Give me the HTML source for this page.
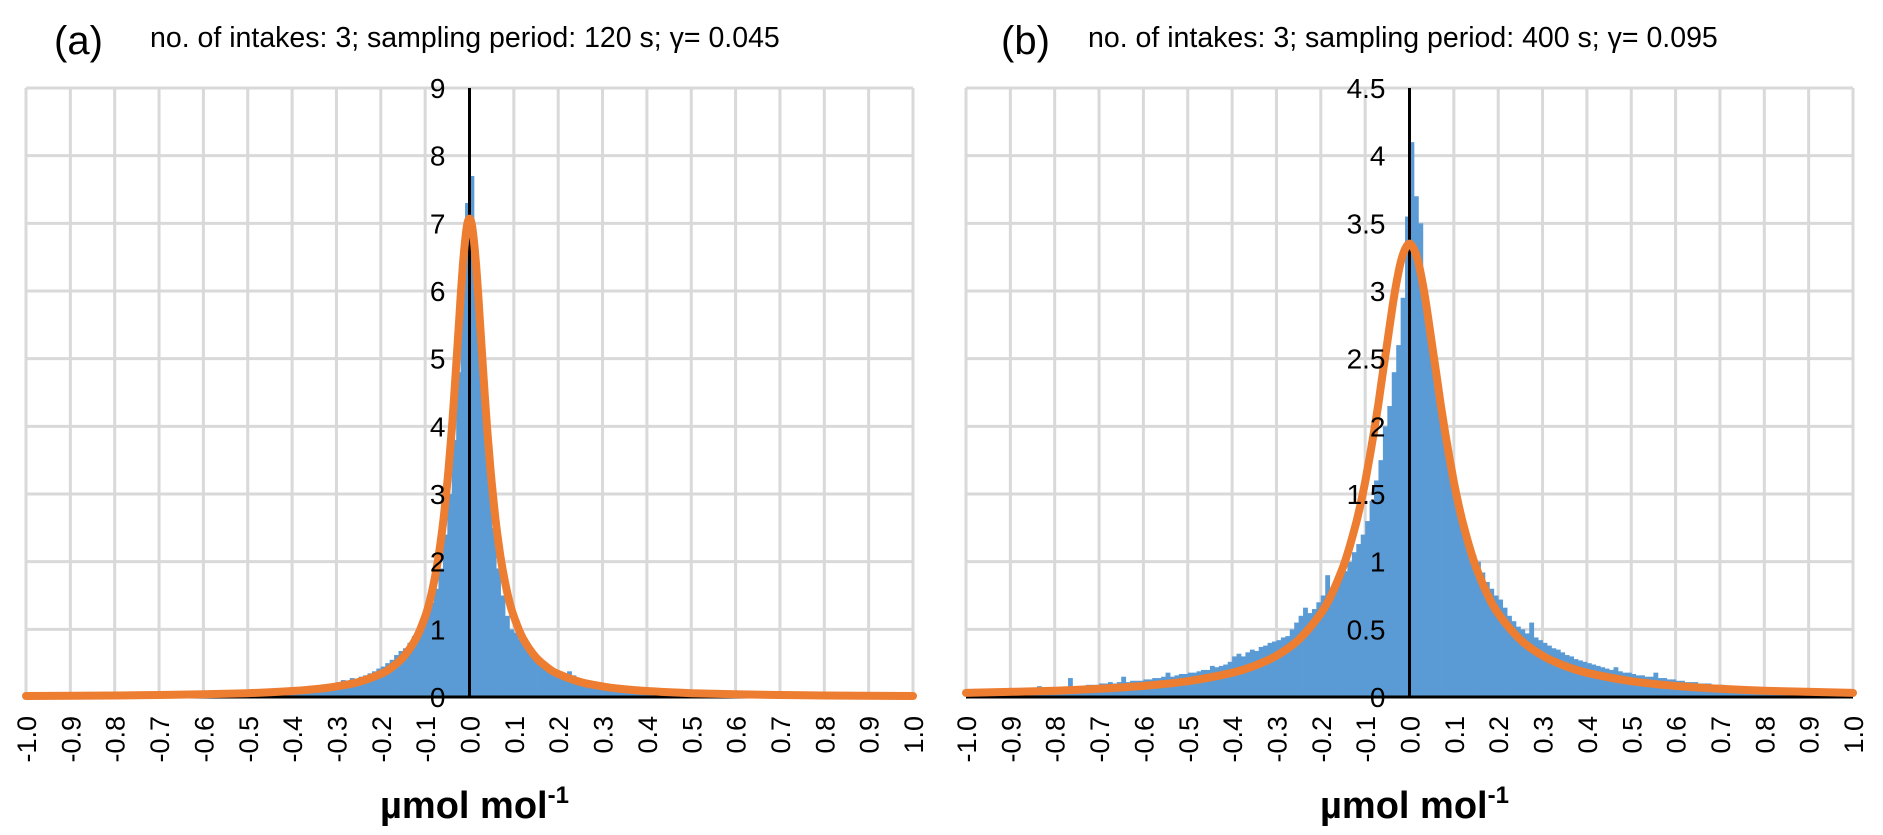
<!DOCTYPE html>
<html><head><meta charset="utf-8">
<style>
html,body{margin:0;padding:0;background:#fff;}
svg{display:block;font-family:"Liberation Sans",Arial,sans-serif;}
</style></head>
<body>
<svg id="chart" width="1883" height="835" viewBox="0 0 1883 835" xmlns="http://www.w3.org/2000/svg">
  <g>
    <text x="54" y="54" font-size="40">(a)</text>
    <text x="150" y="47" font-size="28.5">no. of intakes: 3; sampling period: 120 s; γ= 0.045</text>
  </g>
  <g>
    <text x="1001" y="54" font-size="40">(b)</text>
    <text x="1088" y="47" font-size="28.5">no. of intakes: 3; sampling period: 400 s; γ= 0.095</text>
  </g>
  <g id="panelA"></g>
  <g id="panelB"></g>
</svg>
<script>
// ---- data: histogram bins, left edges from -1.00 step 0.01 ----
const histA = [
 0.01,0.01,0.01,0.01,0.01,0.01,0.01,0.01,0.01,0.01,
 0.01,0.01,0.01,0.01,0.01,0.01,0.01,0.01,0.01,0.01,
 0.01,0.01,0.01,0.01,0.01,0.02,0.02,0.02,0.02,0.02,
 0.02,0.02,0.02,0.02,0.02,0.02,0.02,0.02,0.02,0.02,
 0.03,0.03,0.03,0.03,0.03,0.04,0.04,0.04,0.04,0.05,
 0.05,0.05,0.05,0.06,0.06,0.06,0.07,0.07,0.08,0.08,
 0.10,0.12,0.11,0.14,0.13,0.15,0.16,0.15,0.18,0.20,
 0.22,0.25,0.24,0.28,0.27,0.30,0.32,0.35,0.38,0.42,
 0.45,0.50,0.55,0.62,0.68,0.72,0.80,0.90,1.00,1.10,
 1.20,1.40,1.60,1.90,2.40,3.00,3.80,4.80,6.00,7.30,
 7.70,6.60,5.40,4.20,3.20,2.50,1.90,1.50,1.20,1.00,
 0.95,0.85,0.75,0.65,0.58,0.52,0.48,0.45,0.42,0.40,
 0.36,0.34,0.38,0.32,0.28,0.26,0.24,0.22,0.20,0.18,
 0.16,0.15,0.14,0.12,0.11,0.10,0.09,0.08,0.08,0.07,
 0.06,0.06,0.06,0.05,0.05,0.05,0.05,0.04,0.04,0.04,
 0.04,0.04,0.03,0.03,0.03,0.03,0.03,0.03,0.03,0.03,
 0.02,0.02,0.02,0.02,0.02,0.02,0.02,0.02,0.02,0.02,
 0.02,0.02,0.02,0.02,0.02,0.01,0.01,0.01,0.01,0.01,
 0.01,0.01,0.01,0.01,0.01,0.01,0.01,0.01,0.01,0.01,
 0.01,0.01,0.01,0.01,0.01,0.01,0.01,0.01,0.01,0.01
];
const histB = [
 0.03,0.03,0.03,0.04,0.03,0.04,0.04,0.04,0.05,0.04,
 0.05,0.05,0.05,0.06,0.05,0.06,0.08,0.06,0.06,0.07,
 0.07,0.07,0.07,0.14,0.08,0.08,0.08,0.09,0.09,0.09,
 0.10,0.10,0.11,0.10,0.11,0.15,0.11,0.12,0.12,0.12,
 0.13,0.13,0.14,0.14,0.15,0.18,0.15,0.16,0.17,0.17,
 0.18,0.18,0.19,0.20,0.20,0.23,0.22,0.23,0.24,0.26,
 0.30,0.32,0.30,0.33,0.35,0.34,0.37,0.38,0.40,0.41,
 0.42,0.44,0.45,0.50,0.55,0.60,0.66,0.62,0.65,0.70,
 0.75,0.90,0.78,0.82,0.88,0.93,1.00,1.07,1.13,1.20,
 1.30,1.45,1.60,1.75,2.00,2.15,2.40,2.60,2.95,3.55,
 4.10,3.70,3.50,3.00,2.80,2.55,2.30,2.10,1.90,1.60,
 1.45,1.35,1.25,1.15,1.05,1.00,0.92,0.85,0.80,0.75,
 0.72,0.66,0.60,0.56,0.52,0.50,0.47,0.55,0.44,0.42,
 0.40,0.38,0.36,0.35,0.33,0.31,0.30,0.28,0.27,0.26,
 0.25,0.24,0.23,0.22,0.21,0.20,0.22,0.19,0.18,0.18,
 0.17,0.16,0.16,0.15,0.15,0.18,0.14,0.14,0.13,0.13,
 0.12,0.12,0.11,0.11,0.11,0.10,0.10,0.10,0.09,0.09,
 0.09,0.08,0.08,0.08,0.08,0.07,0.07,0.07,0.07,0.06,
 0.06,0.06,0.06,0.05,0.05,0.05,0.05,0.05,0.04,0.04,
 0.04,0.04,0.04,0.04,0.03,0.03,0.03,0.03,0.03,0.03
];
const binStart = -1.0;
const binWidth = 0.01;
// ---- fitted Lorentz curves (panel a) ----
const fitXA = [-1.0,-0.8,-0.7,-0.6,-0.5,-0.4,-0.35,-0.3,-0.25,-0.2,-0.18,-0.15,-0.12,-0.1,-0.09,-0.08,-0.07,-0.06,-0.05,-0.045,-0.04,-0.035,-0.03,-0.025,-0.02,-0.015,-0.01,-0.005,0,0.005,0.01,0.015,0.02,0.025,0.03,0.035,0.04,0.045,0.05,0.06,0.07,0.08,0.09,0.1,0.12,0.15,0.18,0.2,0.25,0.3,0.35,0.4,0.5,0.6,0.7,0.8,1.0];
const fitA = [0.0143,0.0223,0.0291,0.0396,0.0568,0.0884,0.115,0.156,0.222,0.341,0.416,0.584,0.872,1.19,1.41,1.70,2.07,2.55,3.17,3.54,3.95,4.41,4.90,5.40,5.91,6.37,6.74,6.99,7.07,6.99,6.74,6.37,5.91,5.40,4.90,4.41,3.95,3.54,3.17,2.55,2.07,1.70,1.41,1.19,0.872,0.584,0.416,0.341,0.222,0.156,0.115,0.0884,0.0568,0.0396,0.0291,0.0223,0.0143];
// ---- fitted Lorentz curves (panel b) ----
const fitXB = [-1.0,-0.8,-0.7,-0.6,-0.5,-0.4,-0.35,-0.3,-0.25,-0.2,-0.175,-0.15,-0.135,-0.12,-0.11,-0.1,-0.09,-0.08,-0.07,-0.06,-0.05,-0.04,-0.03,-0.02,-0.01,0,0.01,0.02,0.03,0.04,0.05,0.06,0.07,0.08,0.09,0.1,0.11,0.12,0.135,0.15,0.175,0.2,0.25,0.3,0.35,0.4,0.5,0.6,0.7,0.8,1.0];
const fitB = [0.030,0.0466,0.0606,0.0819,0.117,0.179,0.230,0.305,0.423,0.617,0.763,0.959,1.11,1.29,1.43,1.59,1.77,1.96,2.17,2.40,2.62,2.85,3.05,3.21,3.31,3.35,3.31,3.21,3.05,2.85,2.62,2.40,2.17,1.96,1.77,1.59,1.43,1.29,1.11,0.959,0.763,0.617,0.423,0.305,0.230,0.179,0.117,0.0819,0.0606,0.0466,0.030];
// ---- axes ----
const xTicks = [-1.0,-0.9,-0.8,-0.7,-0.6,-0.5,-0.4,-0.3,-0.2,-0.1,0.0,0.1,0.2,0.3,0.4,0.5,0.6,0.7,0.8,0.9,1.0];
const yTicksA = [0,1,2,3,4,5,6,7,8,9];
const yTicksB = [0,0.5,1,1.5,2,2.5,3,3.5,4,4.5];
const yLabelsB = ["0","0.5","1","1.5","2","2.5","3","3.5","4","4.5"];

const NS = "http://www.w3.org/2000/svg";
function mk(parent, tag, attrs){
  const e = document.createElementNS(NS, tag);
  for (const k in attrs) e.setAttribute(k, attrs[k]);
  parent.appendChild(e);
  return e;
}
function smoothPath(pts){
  let d = 'M' + pts[0][0].toFixed(1) + ',' + pts[0][1].toFixed(1);
  for (let i = 0; i < pts.length - 1; i++){
    const p0 = pts[Math.max(0, i-1)], p1 = pts[i], p2 = pts[i+1], p3 = pts[Math.min(pts.length-1, i+2)];
    const c1x = p1[0] + (p2[0]-p0[0])/6, c1y = p1[1] + (p2[1]-p0[1])/6;
    const c2x = p2[0] - (p3[0]-p1[0])/6, c2y = p2[1] - (p3[1]-p1[1])/6;
    d += ' C' + c1x.toFixed(1) + ',' + c1y.toFixed(1) + ' ' + c2x.toFixed(1) + ',' + c2y.toFixed(1) + ' ' + p2[0].toFixed(1) + ',' + p2[1].toFixed(1);
  }
  return d;
}

function drawPanel(g, left, hist, fitXs, fitY, yTicks, yLabels, yMax, key){
  const W = 887, top = 88, bottom = 697;
  const xS = v => left + (v + 1) / 2 * W;
  const yS = v => bottom - v / yMax * (bottom - top);
  yTicks.forEach(t => {
    const l = mk(g, 'line', {x1:left, x2:left+W, y1:yS(t), y2:yS(t), stroke:'#d9d9d9', 'stroke-width':3});
    
    
  });
  xTicks.forEach(t => {
    const l = mk(g, 'line', {x1:xS(t), x2:xS(t), y1:top, y2:bottom, stroke:'#d9d9d9', 'stroke-width':3});
    
    
  });
  hist.forEach((v, i) => {
    const x0 = xS(binStart + i * binWidth), x1 = xS(binStart + (i + 1) * binWidth);
    const r = mk(g, 'rect', {x:x0, y:yS(v), width:x1 - x0 + 0.4, height:bottom - yS(v), fill:'#5b9bd5'});
    
    
  });
  const ax = mk(g, 'line', {x1:left, x2:left+W, y1:bottom, y2:bottom, stroke:'#000', 'stroke-width':3});
  
  
  const ay = mk(g, 'line', {x1:xS(0), x2:xS(0), y1:top, y2:bottom, stroke:'#000', 'stroke-width':3});
  
  
  const pts = fitXs.map((x, i) => [xS(x), yS(fitY[i])]);
  const p = mk(g, 'path', {d:smoothPath(pts), fill:'none', stroke:'#ed7d31', 'stroke-width':8, 'stroke-linecap':'round', 'stroke-linejoin':'round'});
  
  
  yTicks.forEach((t, i) => {
    const tx = mk(g, 'text', {x:xS(0) - 24, y:yS(t) + 10, 'font-size':28, 'text-anchor':'end', fill:'#000'});
    tx.textContent = yLabels[i];
    
    
  });
  xTicks.forEach(t => {
    const tx = mk(g, 'text', {x:0, y:0, 'font-size':27, 'text-anchor':'end', fill:'#000',
      transform:'translate(' + (xS(t) + 10) + ',716) rotate(-90)'});
    tx.textContent = t.toFixed(1);
    
    
  });
  const tt = mk(g, 'text', {x:left + W/2 + 5, y:818, 'font-size':38, 'font-weight':'bold', 'text-anchor':'middle', fill:'#000'});
  tt.innerHTML = 'µmol mol<tspan dy="-15" font-size="24">-1</tspan>';
  
  
}

drawPanel(document.getElementById('panelA'), 26, histA, fitXA, fitA, yTicksA, yTicksA.map(String), 9, 'panel-a');
drawPanel(document.getElementById('panelB'), 966, histB, fitXB, fitB, yTicksB, yLabelsB, 4.5, 'panel-b');
</script>
</body></html>
